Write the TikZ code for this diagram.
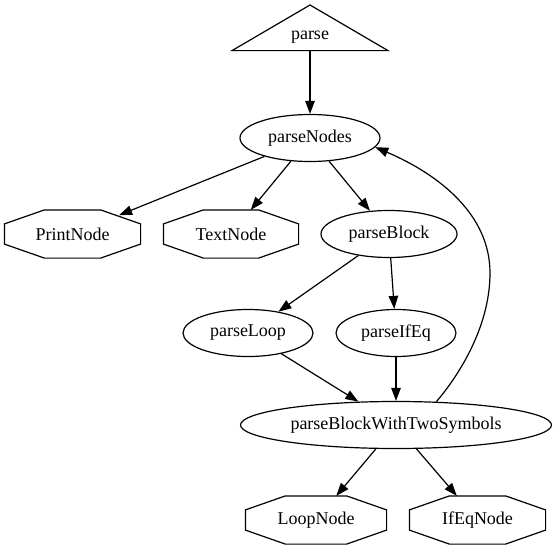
\documentclass[tikz,border=0pt]{standalone}
\usepackage{fontspec}
\setmainfont{Liberation Serif}
\usetikzlibrary{arrows.meta, shapes.geometric, calc}

\tikzset{
  fn/.style={draw, ellipse, inner sep=0pt, minimum height=47pt},
  leaf/.style={rectangle, inner sep=0pt, minimum width=135pt, minimum height=47pt,
    append after command={\pgfextra{\let\oct\tikzlastnode
      \draw ($(\oct.north west)+(40pt,0pt)$) -- ($(\oct.north east)+(-40pt,0pt)$)
        -- ($(\oct.north east)+(0pt,-14pt)$) -- ($(\oct.south east)+(0pt,14pt)$)
        -- ($(\oct.south east)+(-40pt,0pt)$) -- ($(\oct.south west)+(40pt,0pt)$)
        -- ($(\oct.south west)+(0pt,14pt)$) -- ($(\oct.north west)+(0pt,-14pt)$) -- cycle;}}},
  call/.style={-{Triangle[length=13pt,width=9.5pt]}},
}

\begin{document}
\begin{tikzpicture}[x=1pt, y=-1pt, line width=1.2pt, font=\fontsize{18}{20}\selectfont]
  \useasboundingbox (0,0) rectangle (555,552);

  % entry point
  \node[minimum height=26pt, inner sep=0pt] (parse) at (310,37) {parse};
  \draw ($(parse.south)+(-78,0)$) -- ($(parse.south)+(78,0)$) -- (310,5) -- cycle;

  \node[fn, minimum width=140pt] (parseNodes) at (310,138) {parseNodes};
  \node[leaf] (PrintNode) at (72.5,234) {PrintNode};
  \node[leaf, minimum width=134pt] (TextNode) at (231,234) {TextNode};
  \node[fn, minimum width=136pt] (parseBlock) at (389,234) {parseBlock};
  \node[fn, minimum width=130pt] (parseLoop) at (248,333) {parseLoop};
  \node[fn, minimum width=120pt] (parseIfEq) at (396,333) {parseIfEq};
  \node[fn, minimum width=311pt] (pBWTS) at (396,425) {parseBlockWithTwoSymbols};
  \node[leaf, minimum width=140pt] (LoopNode) at (316,520) {LoopNode};
  \node[leaf] (IfEqNode) at (477.5,520) {IfEqNode};

  \draw[call] (parse) -- (parseNodes);
  \draw[call, shorten >=-14pt] (parseNodes) -- (PrintNode);
  \draw[call] (parseNodes) -- (TextNode);
  \draw[call] (parseNodes) -- (parseBlock);
  \draw[call] (parseBlock) -- (parseLoop);
  \draw[call] (parseBlock) -- (parseIfEq);
  \draw[call] (parseLoop) -- (pBWTS);
  \draw[call] (parseIfEq) -- (pBWTS);
  \draw[call] (pBWTS) -- (LoopNode);
  \draw[call] (pBWTS) -- (IfEqNode);

  % recursion back up
  \draw[call] (pBWTS.30) .. controls (455,380) and (490,330) .. (490,273)
    .. controls (490,215) and (440,175) .. (parseNodes.-8);
\end{tikzpicture}
\end{document}
